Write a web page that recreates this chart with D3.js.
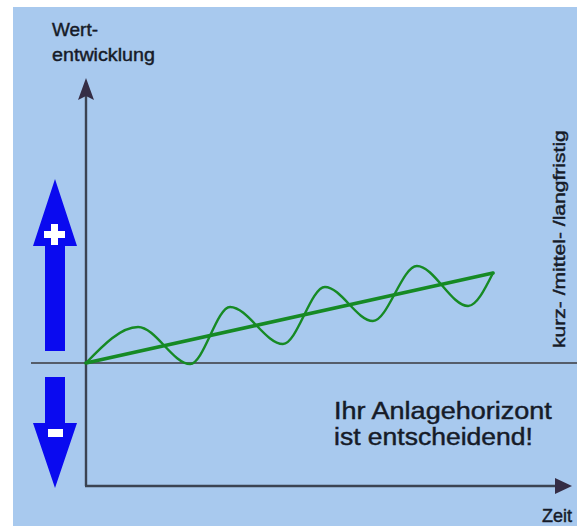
<!DOCTYPE html>
<html>
<head>
<meta charset="utf-8">
<script src="https://cdn.jsdelivr.net/npm/d3@7"></script>
<style>
  html, body { margin: 0; padding: 0; background: #ffffff; }
  svg { display: block; }
  text { font-family: "Liberation Sans", Arial, sans-serif; fill: #161b28; stroke: #161b28; stroke-width: 0.45px; }
</style>
</head>
<body>
<svg id="chart" width="577" height="526"></svg>
<script>
// Time axis (0 = today, 100 = end of horizon) and value development
const trendTime  = [0, 100];
const trendValue = [0, 22.5];

// Fluctuating short-term development around the long-term trend (highs and lows)
const waveTime  = [0, 12.8, 25.6, 35.4, 48.4, 58.7, 70.5, 81.3, 93.9, 100];
const waveValue = [0, 9.0, -0.25, 14.0, 4.75, 19.0, 10.5, 24.25, 14.25, 22.5];

// Labels
const yLabel = ["Wert-", "entwicklung"];
const xLabel = "Zeit";
const sideLabel = "kurz- /mittel- /langfristig";
const message = ["Ihr Anlagehorizont", "ist entscheidend!"];

const svg = d3.select("#chart");

// Scales: origin of the diagram at (86, 363)
const x = d3.scaleLinear().domain([0, 100]).range([86, 493]);
const y = d3.scaleLinear().domain([-30, 70]).range([483, 83]);

// Panel background
svg.append("rect")
  .attr("x", 13).attr("y", 7)
  .attr("width", 577 - 13).attr("height", 526 - 7)
  .attr("fill", "#a8c9ee");

const axisColor = "#3b4352";

// Zero line (value unchanged)
svg.append("line")
  .attr("x1", 31).attr("x2", 577)
  .attr("y1", y(0)).attr("y2", y(0))
  .attr("stroke", "#555d6a").attr("stroke-width", 2.2);

// Vertical value axis with arrow
svg.append("line")
  .attr("x1", x(0)).attr("x2", x(0))
  .attr("y1", 96).attr("y2", 486)
  .attr("stroke", axisColor).attr("stroke-width", 2.4);
svg.append("path")
  .attr("d", `M${x(0)},78 L${x(0) + 8},100 L${x(0)},96 L${x(0) - 8},100 Z`)
  .attr("fill", "#352d45");

// Horizontal time axis with arrow
svg.append("line")
  .attr("x1", x(0) - 1).attr("x2", 558)
  .attr("y1", 486).attr("y2", 486)
  .attr("stroke", axisColor).attr("stroke-width", 2.4);
svg.append("path")
  .attr("d", "M572,486 L555,478 L555,494 Z")
  .attr("fill", "#352d45");

// Blue up / down arrows
const blue = "#0a0af0";
svg.append("path")
  .attr("d", "M55,179 L77,246 L65,246 L65,351 L45,351 L45,246 L33,246 Z")
  .attr("fill", blue);
svg.append("path")
  .attr("d", "M45,377 L65,377 L65,423 L77,423 L55,488 L33,423 L45,423 Z")
  .attr("fill", blue);
// plus sign
svg.append("path")
  .attr("d", "M51,224 h7 v7 h7 v7 h-7 v7 h-7 v-7 h-7 v-7 h7 Z")
  .attr("fill", "#ffffff");
// minus sign
svg.append("rect")
  .attr("x", 48).attr("y", 429).attr("width", 15).attr("height", 8)
  .attr("fill", "#ffffff");

// Trend and fluctuation lines
const green = "#168a24";
const trendLine = d3.line()
  .x((d, i) => x(trendTime[i]))
  .y(d => y(d));
svg.append("path")
  .attr("d", trendLine(trendValue))
  .attr("fill", "none")
  .attr("stroke", green).attr("stroke-width", 3.6)
  .attr("stroke-linecap", "round");

const waveLine = d3.line()
  .x((d, i) => x(waveTime[i]))
  .y(d => y(d))
  .curve(d3.curveMonotoneX);
svg.append("path")
  .attr("d", waveLine(waveValue))
  .attr("fill", "none")
  .attr("stroke", green).attr("stroke-width", 2.4)
  .attr("stroke-linecap", "round");

// Text stretched horizontally to a given width (glyphs scaled, not spaced)
function label(str, px, py, size, width, angle) {
  const g = svg.append("g")
    .attr("transform", `translate(${px},${py}) rotate(${angle || 0})`);
  const t = g.append("text").attr("font-size", size).text(str);
  const natural = t.node().getComputedTextLength();
  t.attr("transform", `scale(${width / natural},1)`);
  return t;
}

// Axis titles
label(yLabel[0], 52, 36, 19, 46);
label(yLabel[1], 52, 61, 19, 103);
label(xLabel, 542, 522, 18, 30);
label(sideLabel, 565, 348, 17, 218, -90);

// Message
label(message[0], 334, 419, 24, 218);
label(message[1], 334, 445, 24, 199);
</script>
</body>
</html>
